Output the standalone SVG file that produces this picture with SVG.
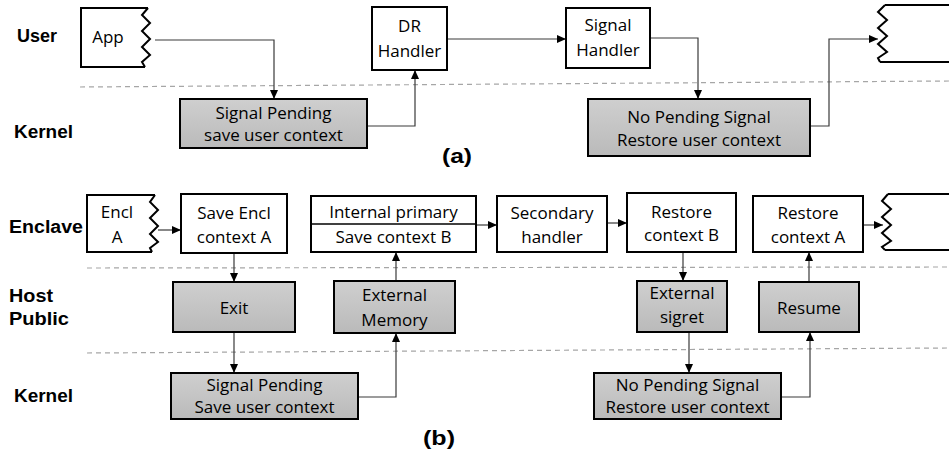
<svg xmlns="http://www.w3.org/2000/svg" width="949" height="455" viewBox="0 0 949 455">
<style>
.bx{fill:#fff;stroke:#000;stroke-width:2}
.gb{fill:url(#gr);stroke:#000;stroke-width:2}
.zz{fill:none;stroke:#000;stroke-width:2;stroke-linejoin:miter}
.t{font-family:"Open Sans","Liberation Sans",sans-serif;font-size:17px;fill:#000;text-anchor:middle}
.lb{font-family:"Liberation Sans",Arial,sans-serif;font-size:17.5px;font-weight:bold;fill:#000}
.cap{font-family:"Liberation Sans",Arial,sans-serif;font-size:20px;font-weight:bold;fill:#000}
.dl{stroke:#a6a6a6;stroke-width:1.2;stroke-dasharray:5,4;fill:none}
.cn{fill:none;stroke:#3a3a3a;stroke-width:1.2;marker-end:url(#ah)}
</style>
<defs>
<linearGradient id="gr" x1="0" y1="0" x2="0" y2="1">
<stop offset="0" stop-color="#cfcfcf"/>
<stop offset="1" stop-color="#bababa"/>
</linearGradient>
<marker id="ah" markerUnits="userSpaceOnUse" markerWidth="9" markerHeight="8" refX="9" refY="4" orient="auto">
<path d="M0,0 L9,4 L0,8 z" fill="#000"/>
</marker>
</defs>

<g id="lanes">
<line class="dl" x1="80" y1="87" x2="949" y2="81"/>
<line class="dl" x1="87" y1="268" x2="949" y2="267"/>
<line class="dl" x1="87" y1="353" x2="949" y2="348"/>
<text class="lb" x="17" y="42" textLength="40" lengthAdjust="spacingAndGlyphs">User</text>
<text class="lb" x="14" y="138" textLength="59" lengthAdjust="spacingAndGlyphs">Kernel</text>
<text class="lb" x="9" y="233" textLength="74" lengthAdjust="spacingAndGlyphs">Enclave</text>
<text class="lb" x="9" y="302" textLength="44" lengthAdjust="spacingAndGlyphs">Host</text>
<text class="lb" x="9" y="325" textLength="60" lengthAdjust="spacingAndGlyphs">Public</text>
<text class="lb" x="14" y="402" textLength="59" lengthAdjust="spacingAndGlyphs">Kernel</text>
<text class="cap" x="442" y="163" textLength="30" lengthAdjust="spacingAndGlyphs">(a)</text>
<text class="cap" x="423" y="445" textLength="32" lengthAdjust="spacingAndGlyphs">(b)</text>
</g>

<g id="connectors">
<path class="cn" d="M155,40 H274 V99"/>
<path class="cn" d="M367,126 H415 V70"/>
<path class="cn" d="M447,39 H566"/>
<path class="cn" d="M650,38 H698 V99"/>
<path class="cn" d="M810,126 H829 V39 H878"/>
<path class="cn" d="M158,230 H181"/>
<path class="cn" d="M234,253 V282"/>
<path class="cn" d="M234,332 V373"/>
<path class="cn" d="M358,397 H396 V333"/>
<path class="cn" d="M396,281 V252"/>
<path class="cn" d="M476,225 H497"/>
<path class="cn" d="M607,223 H627"/>
<path class="cn" d="M683,252 V281"/>
<path class="cn" d="M689,332 V373"/>
<path class="cn" d="M781,397 H810 V332"/>
<path class="cn" d="M809,282 V252"/>
<path class="cn" d="M863,225 H883"/>
</g>

<g id="app">
<path class="zz" d="M148,8 H81 V67 H145"/>
<path class="zz" d="M148,8 L142,15 L150,23 L142,31 L150,39 L142,47 L150,55 L142,62 L145,67"/>
<text class="t" x="108" y="43">App</text>
</g>

<g id="signal-pending-a">
<rect class="gb" x="180" y="99" width="187" height="49"/>
<text class="t" x="273.5" y="119">Signal Pending</text>
<text class="t" x="273.5" y="141">save user context</text>
</g>

<g id="dr-handler">
<rect class="bx" x="372" y="7" width="75" height="63"/>
<text class="t" x="409.5" y="32">DR</text>
<text class="t" x="409.5" y="57">Handler</text>
</g>

<g id="signal-handler">
<rect class="bx" x="566" y="8" width="84" height="60"/>
<text class="t" x="608" y="31">Signal</text>
<text class="t" x="608" y="56">Handler</text>
</g>

<g id="no-pending-a">
<rect class="gb" x="588" y="99" width="222" height="57"/>
<text class="t" x="699" y="123">No Pending Signal</text>
<text class="t" x="699" y="146">Restore user context</text>
</g>

<g id="user-resume">
<path class="zz" d="M885,5 H949 M880,62 H949"/>
<path class="zz" d="M885,5 L878,12 L887,20 L878,28 L887,36 L878,44 L887,52 L878,58 L880,62"/>
</g>

<g id="encl-a">
<path class="zz" d="M155,195 H87 V252 H152"/>
<path class="zz" d="M155,195 L150,202 L158,210 L150,218 L158,226 L150,234 L158,242 L150,248 L152,252"/>
<text class="t" x="117" y="218">Encl</text>
<text class="t" x="117" y="243">A</text>
</g>

<g id="save-encl">
<rect class="bx" x="181" y="194" width="106" height="59"/>
<text class="t" x="234" y="219">Save Encl</text>
<text class="t" x="234" y="243">context A</text>
</g>

<g id="internal-primary">
<rect class="bx" x="311" y="196" width="165" height="56"/>
<line x1="311" y1="224" x2="476" y2="224" stroke="#000" stroke-width="1.5"/>
<text class="t" x="393.5" y="218">Internal primary</text>
<text class="t" x="393.5" y="243">Save context B</text>
</g>

<g id="secondary-handler">
<rect class="bx" x="497" y="196" width="110" height="56"/>
<text class="t" x="552" y="219">Secondary</text>
<text class="t" x="552" y="243">handler</text>
</g>

<g id="restore-b">
<rect class="bx" x="627" y="193" width="109" height="59"/>
<text class="t" x="681.5" y="218">Restore</text>
<text class="t" x="681.5" y="241">context B</text>
</g>

<g id="restore-a">
<rect class="bx" x="753" y="196" width="110" height="56"/>
<text class="t" x="808" y="219">Restore</text>
<text class="t" x="808" y="243">context A</text>
</g>

<g id="enclave-resume">
<path class="zz" d="M888,194 H949 M885,250 H949"/>
<path class="zz" d="M888,194 L882,201 L891,209 L882,217 L891,225 L882,233 L891,241 L882,247 L885,250"/>
</g>

<g id="exit">
<rect class="gb" x="173" y="282" width="122" height="50"/>
<text class="t" x="234" y="314">Exit</text>
</g>

<g id="external-memory">
<rect class="gb" x="334" y="281" width="121" height="52"/>
<text class="t" x="394.5" y="301">External</text>
<text class="t" x="394.5" y="326">Memory</text>
</g>

<g id="external-sigret">
<rect class="gb" x="637" y="281" width="90" height="51"/>
<text class="t" x="682" y="299">External</text>
<text class="t" x="682" y="323">sigret</text>
</g>

<g id="resume">
<rect class="gb" x="759" y="282" width="100" height="50"/>
<text class="t" x="809" y="314">Resume</text>
</g>

<g id="signal-pending-b">
<rect class="gb" x="171" y="373" width="187" height="46"/>
<text class="t" x="264.5" y="391">Signal Pending</text>
<text class="t" x="264.5" y="413">Save user context</text>
</g>

<g id="no-pending-b">
<rect class="gb" x="594" y="373" width="187" height="46"/>
<text class="t" x="687.5" y="391">No Pending Signal</text>
<text class="t" x="687.5" y="413">Restore user context</text>
</g>
</svg>
